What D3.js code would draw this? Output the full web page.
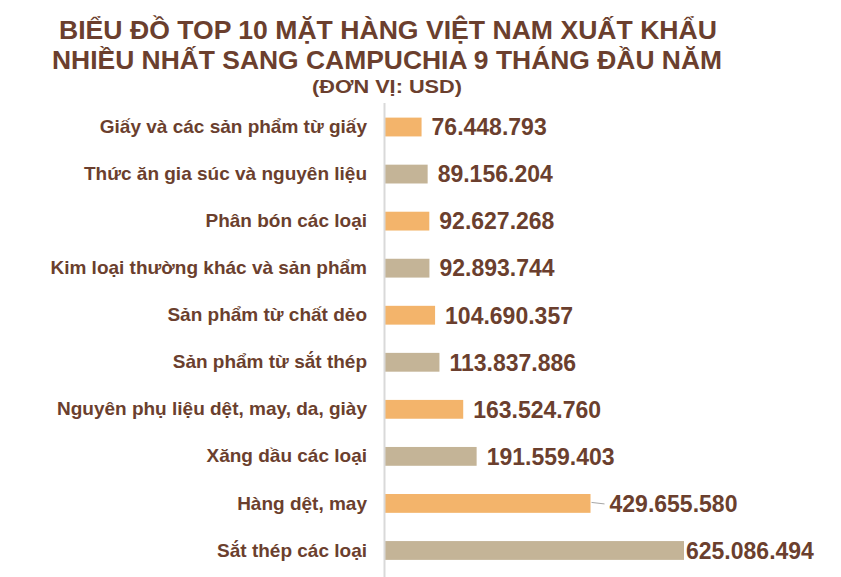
<!DOCTYPE html>
<html>
<head>
<meta charset="utf-8">
<script src="https://cdn.jsdelivr.net/npm/d3@7"></script>
<style>
  html, body { margin: 0; padding: 0; background: #fff; }
  svg { display: block; }
</style>
</head>
<body>
<svg id="chart" width="841" height="577"></svg>
<script>
// ---- Data ----
const titleLines = [
  "BIỂU ĐỒ TOP 10 MẶT HÀNG VIỆT NAM XUẤT KHẨU",
  "NHIỀU NHẤT SANG CAMPUCHIA 9 THÁNG ĐẦU NĂM",
  "(ĐƠN VỊ: USD)"
];
const categories = [
  "Giấy và các sản phẩm từ giấy",
  "Thức ăn gia súc và nguyên liệu",
  "Phân bón các loại",
  "Kim loại thường khác và sản phẩm",
  "Sản phẩm từ chất dẻo",
  "Sản phẩm từ sắt thép",
  "Nguyên phụ liệu dệt, may, da, giày",
  "Xăng dầu các loại",
  "Hàng dệt, may",
  "Sắt thép các loại"
];
const values = [
  76448793, 89156204, 92627268, 92893744, 104690357,
  113837886, 163524760, 191559403, 429655580, 625086494
];

// ---- Styles ----
const brown = "#6b3f2e";
const barColors = ["#f3b46b", "#c4b497"];

const svg = d3.select("#chart");

const x0 = 385;
const x = d3.scaleLinear().domain([0, 625086494]).range([x0, 684]);
const y = d3.scaleBand().domain(categories).range([103.5, 574]).paddingInner(0.6).paddingOuter(0.3);

const fmt = d3.formatLocale({decimal: ",", thousands: ".", grouping: [3], currency: ["", ""]}).format(",d");

// Title
const titleSpecs = [
  {y: 38.5, size: 25, cx: 388, len: 658},
  {y: 68.5, size: 25, cx: 387, len: 670},
  {y: 93, size: 18, cx: 387, len: 150}
];
titleLines.forEach((t, i) => {
  const s = titleSpecs[i];
  svg.append("text")
    .attr("x", s.cx).attr("y", s.y)
    .attr("text-anchor", "middle")
    .attr("font-family", "'Liberation Sans Narrow', 'Arial Narrow', 'Liberation Sans', Arial, sans-serif")
    .attr("font-weight", "bold")
    .attr("font-size", s.size)
    .attr("fill", brown)
    .attr("textLength", s.len)
    .attr("lengthAdjust", "spacingAndGlyphs")
    .text(t);
});

// Bars
svg.append("g").selectAll("rect")
  .data(categories)
  .join("rect")
  .attr("x", x0)
  .attr("y", d => y(d))
  .attr("width", (d, i) => x(values[i]) - x0)
  .attr("height", y.bandwidth())
  .attr("fill", (d, i) => barColors[i % 2]);

// Category axis
const yAxis = d3.axisLeft(y).tickSize(0).tickPadding(17.5);
const gAxis = svg.append("g")
  .attr("transform", `translate(${x0 - 0.5},0)`)
  .call(yAxis);
gAxis.select(".domain").remove();
gAxis.selectAll("text")
  .attr("font-family", "'Liberation Sans', Arial, sans-serif")
  .attr("font-weight", "bold")
  .attr("font-size", 19)
  .attr("fill", brown);
svg.append("line")
  .attr("x1", x0 - 0.5).attr("x2", x0 - 0.5)
  .attr("y1", 103).attr("y2", 577)
  .attr("stroke", "#d9d9d9").attr("stroke-width", 2);

// Value labels
const gaps = categories.map((d, i) => i === 8 ? 19 : (i === 9 ? 2 : 10));
svg.append("g").selectAll("text")
  .data(categories)
  .join("text")
  .attr("x", (d, i) => x(values[i]) + gaps[i])
  .attr("y", d => y(d) + y.bandwidth() / 2)
  .attr("dy", "0.36em")
  .attr("font-family", "'Liberation Sans', Arial, sans-serif")
  .attr("font-weight", "bold")
  .attr("font-size", 23)
  .attr("fill", brown)
  .text((d, i) => fmt(values[i]));

// Leader line for the label pushed away from its bar
const li = 8;
svg.append("line")
  .attr("x1", x(values[li]) + 1).attr("x2", x(values[li]) + gaps[li] - 5)
  .attr("y1", y(categories[li]) + y.bandwidth() / 2 - 1)
  .attr("y2", y(categories[li]) + y.bandwidth() / 2 + 0.5)
  .attr("stroke", "#a6a6a6").attr("stroke-width", 1);
</script>
</body>
</html>
